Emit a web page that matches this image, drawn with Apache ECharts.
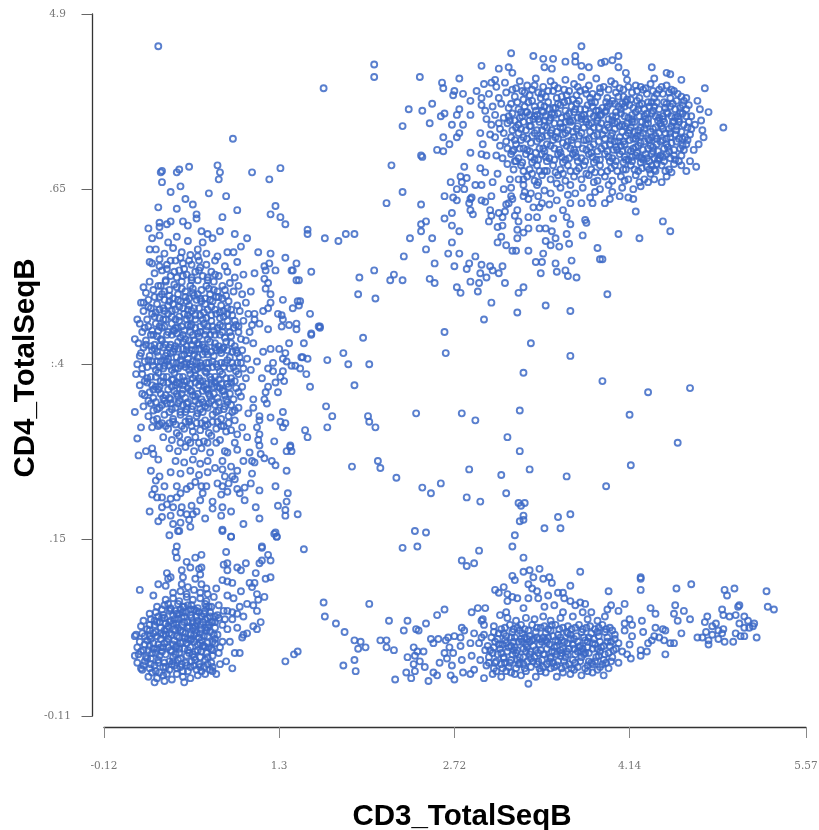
<!DOCTYPE html>
<html><head><meta charset="utf-8">
<style>html,body{margin:0;padding:0;background:#fff}#c{width:819px;height:830px}</style>
<script src="https://cdn.jsdelivr.net/npm/echarts@6/dist/echarts.min.js"></script>
</head><body><div id="c"></div>
<script>
const xTickValues=[-0.12,1.3,2.72,4.14,5.57];
const xTickLabels=['-0.12','1.3','2.72','4.14','5.57'];
const yTickValues=[-0.11,1.15,2.4,3.65,4.9];
const yTickLabels=['-0.11','.15',':.4','.65','4.9'];
// flat x,y pairs
const midScatter=[1.50,2.55,1.49,2.45,1.53,2.44,1.69,2.43,1.82,2.48,1.86,2.40,2.03,2.40,2.65,2.48,3.34,2.55,3.66,2.46,3.28,2.34,3.92,2.28,4.29,2.20,4.63,2.23,1.52,2.33,1.55,2.24,1.91,2.25,1.68,2.10,1.73,2.03,2.02,2.03,2.03,1.99,1.69,1.95,2.08,1.95,1.51,1.93,1.53,1.88,2.41,2.05,2.78,2.05,2.89,2.00,3.25,2.07,4.14,2.04,3.15,1.88,3.25,1.78,4.53,1.84,1.89,1.67,2.10,1.71,2.12,1.66,2.25,1.59,2.46,1.52,2.53,1.48,2.61,1.55,2.84,1.65,3.10,1.61,3.33,1.65,3.63,1.60,3.95,1.53,4.15,1.68,2.82,1.45,2.93,1.42,3.14,1.48,3.24,1.41,3.26,1.39,3.29,1.41,3.28,1.32,3.28,1.29,3.25,1.28,3.56,1.31,3.66,1.33,3.45,1.23,3.58,1.23,3.21,1.18,3.19,1.10,2.40,1.21,2.49,1.20,2.30,1.09,2.42,1.10,1.50,1.08,2.92,1.07,2.78,1.00,2.82,.96,2.88,.98,3.28,1.02,3.19,.89,3.28,.92,3.33,.93,3.41,.94,3.74,.92,4.23,.88];
const upperScatter=[2.07,4.54,2.07,4.45,1.66,4.37,2.44,4.45,2.62,4.41,2.63,4.37,2.76,4.44,2.72,4.35,2.71,4.32,2.54,4.26,2.35,4.22,2.46,4.21,2.61,4.17,2.64,4.19,2.52,4.12,2.30,4.10,2.76,4.22,2.74,4.18,2.70,4.11,2.63,4.02,2.68,3.97,2.74,4.02,2.76,4.05,2.58,3.93,2.63,3.92,2.45,3.89,2.46,3.88,2.21,3.82,2.85,3.91,2.80,3.81,2.77,3.74,2.82,3.73,2.69,3.70,2.78,3.70,2.74,3.65,2.80,3.65,2.89,3.68,2.30,3.63,2.17,3.55,2.45,3.54,2.64,3.60,2.71,3.59,2.74,3.57,2.84,3.55,2.86,3.59,2.70,3.48,2.64,3.44,2.85,3.50,2.87,3.47,2.49,3.42,2.45,3.40,2.45,3.35,2.70,3.39,2.76,3.35,2.36,3.30,2.54,3.30,1.53,3.36,1.53,3.33,1.67,3.30,1.78,3.28,1.84,3.33,1.91,3.33,2.70,3.27,2.49,3.22,2.67,3.19,2.76,3.19,2.31,3.17,2.56,3.12,2.72,3.10,2.82,3.08,2.84,3.12,2.89,3.17,1.56,3.06,2.07,3.07,1.95,3.02,2.23,3.04,2.20,3.00,2.30,3.00,2.52,3.01,2.56,2.98,2.74,2.95,2.77,2.91,2.85,2.99,1.94,2.90,2.08,2.87,1.55,2.76,1.47,2.85,1.62,2.67,1.63,2.66,1.56,2.61,1.98,2.59,2.64,2.63];
const topRightFringe=[3.02,3.60,3.03,3.70,2.94,3.68,2.94,3.57,2.97,3.56,2.85,3.58,3.01,3.50,3.02,3.46,3.00,3.42,3.08,3.48,3.11,3.45,3.13,3.49,3.14,3.54,3.16,3.55,3.18,3.60,3.19,3.58,3.07,3.38,3.11,3.39,3.23,3.50,3.21,3.46,3.24,3.42,3.32,3.45,3.39,3.45,3.36,3.52,3.41,3.52,3.40,3.60,3.32,3.58,3.28,3.60,3.23,3.36,3.28,3.34,3.32,3.37,3.41,3.37,3.46,3.37,3.51,3.35,3.23,3.30,3.10,3.31,3.07,3.27,3.14,3.25,3.19,3.21,3.22,3.21,3.32,3.21,3.44,3.19,3.38,3.13,3.43,3.13,3.46,3.28,3.54,3.30,3.50,3.25,3.57,3.24,3.65,3.26,3.63,3.33,3.76,3.32,4.05,3.33,4.22,3.30,4.41,3.42,4.47,3.35,4.19,3.49,3.88,3.23,3.90,3.15,3.92,3.15,3.67,3.14,3.54,3.12,3.55,3.06,3.62,3.07,3.64,3.03,3.71,3.02,3.42,3.05,3.96,2.90,3.66,2.78,3.46,2.82,3.23,2.77,2.96,2.72,3.02,2.84,2.91,2.92,2.92,2.98,2.98,3.02,2.93,3.05,3.03,3.07,3.08,3.05,3.13,2.98,3.11,3.10,3.01,3.10,2.94,3.11,3.24,2.91,3.28,2.95,3.75,4.67,3.18,4.62,3.36,4.60,3.44,4.58,3.52,4.58,3.70,4.60,3.62,4.56,3.70,4.56,2.94,4.53,3.08,4.51,3.16,4.52,3.19,4.48,3.45,4.52,3.51,4.51,3.75,4.53,3.81,4.52,3.91,4.55,3.94,4.56,4.00,4.57,4.05,4.60,4.05,4.52,4.32,4.52,4.44,4.48,4.47,4.47,4.11,4.48,4.34,4.44,4.56,4.43,4.75,4.37,4.69,4.28,4.60,4.30,4.78,4.20,4.71,4.22,4.90,4.09,4.72,4.14,4.73,4.07,4.74,4.02,4.70,3.97,4.66,3.93,4.63,3.85,4.68,3.81,4.60,3.78,4.56,3.82,4.48,3.77,4.44,3.74,4.40,3.70,4.29,3.70,4.17,3.65,4.17,3.58,4.13,3.59,4.06,3.60,4.00,3.63,3.94,3.55,3.84,3.55,2.79,4.33,2.85,4.28,2.90,4.35,2.96,4.40,2.94,4.30,3.02,4.41,3.05,4.43,2.85,4.18,2.79,4.11,2.94,4.25,2.97,4.21,2.93,4.05,3.01,4.04,2.95,3.97,2.94,3.90,2.98,3.89,3.06,3.89,2.93,3.80,2.97,3.77,3.07,3.76,3.17,3.72,3.12,3.65,3.28,3.68,3.29,3.63,3.39,3.68,3.45,3.64,3.55,3.57,3.64,3.61,3.76,3.66,3.90,3.65,3.82,3.59,3.75,3.55,3.66,3.55,3.60,3.50,3.78,3.43,3.79,3.41,3.63,3.45,3.66,3.40,3.49,3.54,3.43,3.55,3.52,3.44,3.18,3.66,3.34,3.62,3.50,3.62,3.58,3.66,3.70,3.62,3.86,3.63,3.98,3.58,4.08,3.66,4.23,3.67,4.34,3.72];
const topRightCore=[3.06,4.38,3.13,4.41,3.19,4.36,3.25,4.42,3.31,4.39,3.38,4.44,3.44,4.38,3.50,4.42,3.56,4.37,3.62,4.43,3.69,4.40,3.75,4.45,3.81,4.39,3.87,4.44,3.93,4.38,3.99,4.42,4.06,4.37,4.12,4.43,4.19,4.39,4.25,4.36,4.31,4.40,4.38,4.36,4.44,4.39,4.50,4.35,
3.00,4.33,3.08,4.30,3.14,4.34,3.21,4.31,3.27,4.35,3.33,4.32,3.40,4.34,3.46,4.31,3.52,4.35,3.59,4.31,3.65,4.35,3.71,4.32,3.78,4.36,3.84,4.33,3.90,4.34,3.96,4.30,4.03,4.34,4.09,4.31,4.16,4.34,4.22,4.30,4.28,4.33,4.34,4.30,4.41,4.33,4.47,4.30,4.53,4.33,4.58,4.28,
3.03,4.24,3.10,4.26,3.16,4.23,3.23,4.27,3.29,4.24,3.35,4.28,3.42,4.25,3.48,4.27,3.54,4.23,3.61,4.27,3.67,4.24,3.73,4.28,3.80,4.25,3.86,4.27,3.92,4.23,3.98,4.26,4.05,4.24,4.11,4.27,4.17,4.23,4.24,4.26,4.30,4.24,4.36,4.27,4.43,4.23,4.49,4.26,4.55,4.23,4.62,4.25,
2.98,4.15,3.05,4.18,3.12,4.16,3.19,4.19,3.25,4.16,3.31,4.20,3.37,4.17,3.44,4.20,3.50,4.16,3.56,4.19,3.63,4.17,3.69,4.20,3.75,4.17,3.82,4.19,3.88,4.16,3.94,4.20,4.00,4.17,4.07,4.19,4.13,4.16,4.19,4.20,4.26,4.17,4.32,4.19,4.38,4.16,4.45,4.19,4.51,4.16,4.57,4.19,4.64,4.17,
3.02,4.11,3.09,4.08,3.15,4.12,3.22,4.09,3.28,4.13,3.34,4.10,3.41,4.13,3.47,4.09,3.53,4.12,3.60,4.09,3.66,4.13,3.72,4.10,3.79,4.13,3.85,4.09,3.91,4.12,3.97,4.09,4.04,4.13,4.10,4.10,4.16,4.13,4.23,4.09,4.29,4.12,4.35,4.09,4.42,4.13,4.48,4.10,4.54,4.13,4.61,4.09,4.67,4.11,
3.05,4.02,3.12,4.05,3.18,4.02,3.24,4.05,3.31,4.01,3.37,4.05,3.43,4.02,3.50,4.05,3.56,4.01,3.62,4.05,3.69,4.02,3.75,4.05,3.81,4.01,3.88,4.04,3.94,4.01,4.00,4.05,4.06,4.02,4.13,4.05,4.19,4.01,4.25,4.05,4.32,4.02,4.38,4.05,4.44,4.01,4.51,4.04,4.57,4.01,4.63,4.04,
3.09,3.96,3.15,3.94,3.22,3.97,3.28,3.94,3.34,3.98,3.41,3.94,3.47,3.97,3.53,3.94,3.60,3.98,3.66,3.94,3.72,3.97,3.79,3.93,3.85,3.97,3.91,3.94,3.98,3.97,4.04,3.93,4.10,3.97,4.17,3.94,4.23,3.98,4.29,3.94,4.36,3.97,4.42,3.94,4.48,3.98,4.55,3.94,4.60,3.97,
3.11,3.87,3.18,3.90,3.24,3.87,3.30,3.90,3.37,3.86,3.43,3.90,3.49,3.87,3.56,3.90,3.62,3.86,3.68,3.90,3.75,3.87,3.81,3.90,3.87,3.86,3.94,3.90,4.00,3.87,4.06,3.90,4.13,3.86,4.19,3.89,4.25,3.86,4.32,3.90,4.38,3.87,4.44,3.90,4.51,3.86,4.56,3.89,
3.20,3.79,3.26,3.82,3.33,3.79,3.39,3.82,3.45,3.78,3.52,3.82,3.58,3.79,3.64,3.82,3.71,3.78,3.77,3.82,3.83,3.79,3.90,3.82,3.96,3.78,4.02,3.82,4.09,3.79,4.15,3.82,4.21,3.78,4.28,3.81,4.34,3.79,4.40,3.82,4.46,3.79,
3.24,3.72,3.31,3.74,3.37,3.71,3.43,3.75,3.50,3.72,3.56,3.75,3.62,3.71,3.69,3.74,3.75,3.72,3.81,3.75,3.88,3.71,3.94,3.74,4.00,3.71,4.07,3.74,4.13,3.72,4.19,3.75,4.26,3.72,4.31,3.76,
4.00,4.28,4.07,4.22,4.12,4.29,4.18,4.13,4.21,4.22,4.27,4.15,4.33,4.21,4.39,4.12,4.44,4.20,4.50,4.13,4.55,4.20,4.02,4.12,4.08,4.06,4.14,4.07,4.20,4.03,4.26,4.08,4.30,4.00,4.36,4.01,4.41,4.08,4.47,4.02,4.52,4.07,4.59,4.02,3.99,4.00,4.03,3.95,4.09,3.99,4.15,3.92,4.21,3.96,4.27,3.90,4.33,3.95,4.39,3.89,4.45,3.95,4.50,3.89,4.09,3.84,4.16,3.85,4.23,3.84,4.30,3.85,4.36,3.83,4.42,3.85,3.62,4.21,3.68,4.14,3.74,4.22,3.81,4.11,3.87,4.21,3.45,4.14,3.52,4.23,3.58,4.12,3.38,4.21,3.33,4.14];
const topRightExtra=[3.22,4.37,3.28,4.29,3.35,4.36,3.42,4.30,3.48,4.35,3.55,4.30,3.61,4.36,3.68,4.29,3.74,4.35,3.82,4.30,3.90,4.37,3.95,4.27,4.02,4.40,4.09,4.36,4.15,4.29,4.23,4.38,4.29,4.27,4.36,4.33,4.42,4.27,4.48,4.36,4.56,4.31,3.18,4.26,3.26,4.20,3.32,4.27,3.39,4.18,3.45,4.24,3.51,4.19,3.58,4.25,3.65,4.19,3.71,4.26,3.77,4.18,3.84,4.24,3.90,4.18,3.96,4.24,4.03,4.20,4.10,4.24,4.16,4.18,4.22,4.25,4.28,4.19,4.34,4.24,4.41,4.17,4.47,4.24,4.53,4.17,4.60,4.22,3.08,4.12,3.17,4.14,3.24,4.11,3.30,4.07,3.36,4.15,3.43,4.07,3.49,4.14,3.55,4.06,3.62,4.13,3.68,4.06,3.75,4.15,3.82,4.06,3.88,4.14,3.94,4.07,4.00,4.14,4.06,4.10,4.12,4.12,4.18,4.06,4.24,4.13,4.31,4.06,4.37,4.14,4.43,4.05,4.49,4.13,4.56,4.06,4.62,4.13,3.14,3.99,3.20,3.93,3.26,4.00,3.33,3.92,3.39,3.99,3.45,3.92,3.52,4.00,3.58,3.91,3.64,3.99,3.70,3.91,3.77,4.00,3.83,3.91,3.89,3.99,3.96,3.92,4.02,3.99,4.08,3.92,4.14,4.00,4.20,3.91,4.26,3.99,4.33,3.92,4.39,3.99,4.46,3.92,4.52,3.99,4.58,3.93,3.15,3.83,3.22,3.85,3.28,3.78,3.35,3.84,3.41,3.78,3.47,3.85,3.54,3.77,3.60,3.84,3.66,3.78,3.72,3.85,3.79,3.76,3.85,3.84,3.91,3.77,3.98,3.85,4.04,3.78,4.11,3.86,4.18,3.79,4.24,3.87,4.30,3.79,4.37,3.86,4.43,3.78,4.50,3.83,3.28,3.72,3.40,3.70,3.55,3.69,3.66,3.68,3.85,3.70,3.97,3.68,4.10,3.71,4.22,3.70,4.35,3.78];
const topRightFill=[3.29,4.34,3.37,4.39,3.43,4.33,3.53,4.39,3.63,4.32,3.72,4.38,3.79,4.33,3.88,4.31,3.97,4.36,4.05,4.31,4.13,4.38,4.20,4.35,4.27,4.37,4.33,4.35,4.40,4.38,4.46,4.34,4.52,4.28,3.24,4.22,3.30,4.20,3.37,4.24,3.43,4.21,3.49,4.22,3.56,4.26,3.64,4.28,3.70,4.22,3.78,4.22,3.83,4.27,3.89,4.21,3.95,4.21,4.02,4.26,4.08,4.26,4.14,4.25,4.20,4.28,4.26,4.22,4.32,4.27,4.38,4.22,4.44,4.26,4.51,4.22,4.57,4.25,3.16,4.17,3.21,4.14,3.27,4.17,3.33,4.18,3.40,4.15,3.46,4.17,3.53,4.18,3.59,4.16,3.65,4.14,3.72,4.16,3.78,4.15,3.85,4.17,3.91,4.18,3.97,4.15,4.03,4.17,4.10,4.17,4.16,4.15,4.22,4.17,4.29,4.15,4.35,4.17,4.41,4.15,4.48,4.17,4.54,4.15,4.60,4.17,3.19,4.07,3.26,4.08,3.33,4.10,3.39,4.07,3.45,4.10,3.51,4.07,3.58,4.09,3.64,4.07,3.71,4.08,3.77,4.09,3.83,4.12,3.89,4.09,3.96,4.11,4.02,4.08,4.08,4.11,4.15,4.09,4.21,4.07,4.27,4.11,4.33,4.08,4.40,4.10,4.46,4.08,4.52,4.10,4.58,4.11,4.64,4.08,3.21,4.00,3.28,4.02,3.35,4.03,3.41,4.01,3.47,4.03,3.54,4.02,3.60,4.04,3.67,4.00,3.73,4.03,3.79,4.00,3.85,4.03,3.92,4.04,3.99,4.03,4.05,3.99,4.11,4.03,4.17,4.01,4.23,4.03,4.29,4.01,4.35,4.03,4.41,4.00,4.47,4.05,4.54,4.01,4.61,4.00,3.19,3.92,3.25,3.94,3.31,3.93,3.38,3.91,3.44,3.94,3.50,3.96,3.57,3.93,3.63,3.96,3.69,3.93,3.76,3.94,3.82,3.95,3.88,3.92,3.94,3.96,4.01,3.93,4.07,3.96,4.13,3.93,4.19,3.95,4.25,3.93,4.31,3.96,4.37,3.92,4.44,3.97,4.50,3.93,4.57,3.96,3.21,3.85,3.27,3.84,3.34,3.88,3.40,3.86,3.46,3.88,3.53,3.86,3.59,3.88,3.65,3.87,3.71,3.88,3.78,3.85,3.84,3.88,3.90,3.86,3.97,3.88,4.03,3.85,4.10,3.88,4.16,3.88,4.22,3.88,4.28,3.87,4.34,3.87,4.41,3.88,4.47,3.87,4.54,3.85,3.35,3.76,3.47,3.78,3.60,3.76,3.73,3.80,3.86,3.77,3.99,3.80,4.11,3.79,4.24,3.80,4.32,3.82];
const leftFringe=[.32,4.67,.925,4.01,.34,3.77,.35,3.78,.47,3.77,.49,3.79,.57,3.81,.80,3.82,.82,3.77,.81,3.72,1.08,3.77,1.31,3.80,1.22,3.72,.35,3.70,.50,3.67,.42,3.63,.73,3.62,.87,3.60,.54,3.58,.60,3.54,.32,3.52,.47,3.51,.96,3.50,1.27,3.53,1.23,3.47,1.31,3.45,1.35,3.40,.63,3.47,.63,3.44,.84,3.45,.42,3.42,.52,3.42,.56,3.39,.24,3.37,.33,3.41,.33,3.38,.39,3.40,.67,3.35,.82,3.35,.94,3.33,.72,3.33,.76,3.30,1.04,3.30,.27,3.30,.33,3.32,.40,3.27,.47,3.31,.56,3.28,.68,3.27,.99,3.24,1.13,3.20,.88,3.20,.93,3.20,1.23,3.19,1.35,3.16,1.44,3.12,1.41,3.07,1.44,3.00,.25,3.22,.25,3.13,.20,2.95,.80,3.17,.96,3.13,1.22,3.12,1.18,3.10,1.27,3.07,1.10,3.05,1.18,3.01,1.21,2.98,1.19,2.94,1.23,2.90,1.33,2.86,1.07,2.92,1.40,3.07,1.46,3.00,1.19,3.07,1.01,3.04,1.23,2.84,1.45,2.85,1.41,2.80,1.46,2.82,1.29,2.76,1.32,2.75,1.17,2.78,1.21,2.80,1.10,2.76,1.10,2.72,1.33,2.72,1.08,2.68,1.14,2.69,1.21,2.65,1.32,2.67,1.38,2.68,1.44,2.69,1.44,2.65,1.56,2.62,1.63,2.67,1.38,2.55,1.30,2.51,1.35,2.48,1.23,2.51,1.17,2.49,1.33,2.44,1.36,2.42,1.40,2.39,1.43,2.39,1.47,2.37,1.48,2.45,1.25,2.41,1.21,2.37,1.25,2.35,1.33,2.35,1.31,2.31,1.34,2.28,1.16,2.30,1.21,2.24,1.27,2.27,1.29,2.20,1.19,2.20,1.18,2.15,1.20,2.12,1.09,2.15,1.09,2.09,1.05,2.05,1.33,2.06,1.14,2.03,1.14,2.00,1.23,2.02,1.12,1.95,1.31,1.99,1.35,1.98,1.33,1.95,1.00,1.95,.96,1.90,1.14,1.90,1.26,1.85,1.39,1.81,1.13,1.86,1.14,1.82,1.04,1.88,.94,1.84,
.16,1.75,.22,1.78,.27,1.80,.28,1.76,.32,1.72,.26,1.64,.33,1.60,.30,1.57,.42,1.63,.37,1.53,.47,1.53,.29,1.51,.27,1.47,.31,1.45,.35,1.45,.42,1.44,.47,1.45,.50,1.48,.58,1.53,.55,1.51,.66,1.43,.68,1.48,.71,1.53,.67,1.53,.80,1.55,.84,1.53,.89,1.55,.86,1.60,.92,1.60,.94,1.58,.96,1.64,1.08,1.62,1.07,1.55,1.02,1.52,.96,1.51,.98,1.48,.88,1.49,.83,1.47,1.14,1.50,1.27,1.53,1.36,1.64,1.27,1.68,1.24,1.71,1.18,1.73,1.10,1.70,1.08,1.71,1.01,1.71,.91,1.67,.84,1.65,.96,1.79,.86,1.78,.88,1.77,.84,1.71,1.15,1.76,1.06,1.77,1.39,1.82,1.36,1.78,1.40,1.78,1.02,1.43,1.11,1.38,1.14,1.30,1.29,1.39,1.36,1.42,1.37,1.48,1.35,1.36,1.35,1.32,1.45,1.33,1.27,1.20,1.28,1.17,1.16,1.10,1.01,1.26,.91,1.17,.84,1.22,.91,1.35,.84,1.38,.83,1.32,.76,1.42,.76,1.37,.70,1.30,.60,1.33,.63,1.35,.59,1.39,.55,1.33,.57,1.29,.58,1.24,.50,1.27,.44,1.26,.48,1.21,.32,1.28,.35,1.31,.25,1.35,.42,1.32,.50,1.34,.39,1.40,.44,1.38,.51,1.38,.35,1.38,.20,2.84,.15,2.72,.13,2.58,.17,2.46,.14,2.33,.19,2.19,.13,2.06,.18,1.95,.15,1.87];
const leftCore=[.30,3.22,.37,3.19,.44,3.23,.51,3.20,.58,3.18,.64,3.22,.71,3.19,.78,3.14,.86,3.10,
.27,3.12,.33,3.15,.39,3.11,.46,3.14,.52,3.12,.59,3.11,.65,3.14,.71,3.11,.88,3.06,.29,3.05,.35,3.07,.42,3.03,.49,3.07,.55,3.04,.62,3.06,.68,3.03,.75,3.06,.81,3.03,.94,3.02,
.25,2.99,.32,2.96,.38,2.99,.45,2.97,.51,2.99,.58,2.96,.64,3.00,.71,2.96,.77,2.99,.84,2.96,.90,2.98,.97,2.96,.22,2.91,.28,2.93,.35,2.90,.41,2.93,.48,2.90,.54,2.92,.61,2.89,.67,2.93,.74,2.90,.80,2.92,.87,2.89,.93,2.92,1.00,2.90,
.18,2.84,.24,2.86,.31,2.83,.37,2.86,.44,2.83,.50,2.85,.57,2.82,.63,2.86,.70,2.83,.76,2.85,.83,2.82,.89,2.85,.96,2.82,1.03,2.84,.20,2.78,.27,2.76,.33,2.79,.40,2.76,.46,2.79,.53,2.76,.59,2.78,.66,2.75,.72,2.79,.79,2.76,.85,2.78,.92,2.75,.98,2.78,1.05,2.76,
.17,2.69,.23,2.72,.30,2.69,.36,2.72,.43,2.69,.49,2.71,.56,2.68,.62,2.72,.69,2.69,.75,2.71,.82,2.68,.88,2.71,.95,2.68,1.01,2.71,1.06,2.63,.19,2.63,.26,2.61,.32,2.64,.39,2.61,.45,2.64,.52,2.61,.58,2.63,.65,2.60,.71,2.64,.78,2.61,.84,2.63,.91,2.60,.97,2.63,1.03,2.57,
.16,2.55,.22,2.57,.29,2.54,.35,2.57,.42,2.54,.48,2.56,.55,2.53,.61,2.57,.68,2.54,.74,2.56,.81,2.53,.87,2.56,.94,2.53,1.00,2.50,1.09,2.55,.18,2.48,.25,2.46,.31,2.49,.38,2.46,.44,2.49,.51,2.46,.57,2.48,.64,2.45,.70,2.49,.77,2.46,.83,2.48,.90,2.45,.96,2.48,1.04,2.44,1.12,2.42,
.15,2.40,.21,2.42,.28,2.39,.34,2.42,.41,2.39,.47,2.41,.54,2.38,.60,2.42,.67,2.39,.73,2.41,.80,2.38,.86,2.41,.93,2.38,.99,2.41,1.07,2.36,.19,2.33,.26,2.31,.32,2.34,.39,2.31,.45,2.34,.52,2.31,.58,2.33,.65,2.30,.71,2.34,.78,2.31,.84,2.33,.91,2.30,.97,2.33,1.03,2.30,
.17,2.25,.23,2.27,.30,2.24,.36,2.27,.43,2.24,.49,2.26,.56,2.23,.62,2.27,.69,2.24,.75,2.26,.82,2.23,.88,2.26,.95,2.23,1.00,2.24,.21,2.18,.28,2.16,.34,2.19,.41,2.16,.47,2.19,.54,2.16,.60,2.18,.67,2.15,.73,2.19,.80,2.16,.86,2.18,.93,2.15,.99,2.17,
.20,2.10,.26,2.12,.33,2.09,.39,2.12,.46,2.09,.52,2.11,.59,2.08,.65,2.12,.72,2.09,.78,2.11,.85,2.08,.91,2.11,.97,2.09,.24,2.03,.31,2.01,.37,2.04,.44,2.01,.50,2.04,.57,2.01,.63,2.03,.70,2.00,.76,2.04,.83,2.01,.89,2.03,.94,2.00,
.27,1.95,.33,1.97,.40,1.94,.46,1.97,.53,1.94,.59,1.96,.66,1.93,.72,1.97,.79,1.94,.85,1.96,.91,1.93,.36,1.88,.43,1.86,.49,1.89,.56,1.86,.62,1.88,.69,1.85,.75,1.89,.82,1.86,.41,1.80,.48,1.78,.54,1.81,.61,1.78,.67,1.80,.74,1.77,.46,1.71,.53,1.70,.60,1.72,.66,1.69,.72,1.71,.50,1.62,.58,1.64,.65,1.61,.72,1.63,.78,1.66,.62,1.56,
.38,2.72,.46,2.66,.34,2.58,.41,2.52,.50,2.59,.56,2.75,.62,2.66,.40,2.44,.48,2.37,.56,2.44,.62,2.36,.72,2.58,.78,2.52,.68,2.47,.36,2.37,.44,2.29,.52,2.22,.60,2.30,.68,2.21,.75,2.29,.42,2.15,.50,2.06,.56,2.13,.64,2.05,.80,2.24,.70,2.10];
const leftExtra=[.24,2.81,.29,2.74,.36,2.80,.43,2.74,.49,2.81,.55,2.72,.61,2.80,.68,2.72,.75,2.81,.82,2.73,.88,2.80,.94,2.71,.21,2.66,.28,2.61,.35,2.66,.43,2.61,.48,2.66,.54,2.58,.60,2.61,.66,2.67,.74,2.61,.80,2.66,.86,2.59,.93,2.66,.99,2.58,.20,2.52,.27,2.50,.33,2.53,.39,2.48,.46,2.53,.52,2.51,.59,2.54,.65,2.51,.72,2.47,.79,2.50,.85,2.52,.92,2.49,.98,2.45,.19,2.37,.24,2.43,.30,2.36,.37,2.43,.43,2.36,.50,2.43,.57,2.36,.63,2.42,.70,2.35,.76,2.42,.82,2.35,.88,2.43,.95,2.35,1.01,2.37,.21,2.28,.28,2.22,.34,2.28,.40,2.22,.47,2.27,.53,2.28,.59,2.21,.66,2.28,.72,2.22,.78,2.27,.85,2.21,.91,2.27,.97,2.20,.24,2.14,.31,2.08,.37,2.14,.43,2.08,.49,2.14,.55,2.08,.62,2.14,.68,2.06,.75,2.14,.81,2.07,.88,2.13,.94,2.07,.28,2.00,.35,1.98,.41,1.98,.47,1.91,.54,1.99,.60,1.92,.67,1.98,.73,1.91,.80,1.99,.87,1.92,.34,2.96,.41,2.89,.47,2.95,.54,2.88,.60,2.94,.66,2.87,.73,2.94,.79,2.88,.86,2.93,.39,3.08,.47,3.02,.53,3.08,.59,3.02,.66,3.09,.72,3.02,.57,2.57,.64,2.55,.53,2.47,.61,2.47,.66,2.41,.47,2.45,.55,2.41];
const leftFill=[.29,2.88,.37,2.92,.44,2.87,.51,2.94,.57,2.87,.64,2.90,.70,2.87,.77,2.93,.84,2.87,.26,2.80,.33,2.73,.40,2.82,.46,2.72,.52,2.80,.58,2.73,.65,2.80,.71,2.73,.78,2.79,.85,2.74,.91,2.79,.24,2.67,.31,2.60,.37,2.67,.44,2.64,.51,2.67,.58,2.67,.66,2.63,.72,2.67,.77,2.64,.84,2.67,.90,2.63,.97,2.67,.22,2.54,.29,2.51,.36,2.52,.42,2.48,.48,2.51,.55,2.50,.62,2.50,.69,2.52,.75,2.49,.82,2.50,.88,2.50,.95,2.50,.23,2.38,.31,2.42,.37,2.39,.44,2.41,.50,2.39,.58,2.40,.64,2.37,.71,2.41,.76,2.38,.83,2.41,.90,2.37,.96,2.41,.23,2.30,.30,2.31,.36,2.31,.43,2.29,.49,2.31,.55,2.28,.62,2.32,.68,2.28,.74,2.31,.81,2.29,.87,2.30,.94,2.28,.25,2.20,.32,2.22,.38,2.18,.45,2.21,.51,2.19,.58,2.21,.64,2.19,.71,2.22,.77,2.19,.84,2.21,.90,2.19,.28,2.07,.35,2.11,.41,2.06,.48,2.12,.54,2.06,.60,2.10,.66,2.08,.73,2.12,.79,2.06,.86,2.10,.92,2.06,.32,1.96,.38,1.96,.44,1.99,.51,1.96,.57,1.99,.63,1.98,.70,1.96,.76,1.99,.83,1.96,.89,1.98,.38,3.00,.45,3.06,.52,3.03,.59,3.00,.65,3.07,.72,3.00,.78,3.04,.33,3.10,.42,3.14,.50,3.16,.57,3.14,.64,3.17,.50,1.84,.58,1.84,.65,1.84,.72,1.84,.79,1.84,
.33,2.88,.41,2.85,.48,2.86,.55,2.85,.60,2.91,.67,2.85,.74,2.86,.81,2.88,.30,2.77,.37,2.78,.43,2.78,.49,2.74,.56,2.79,.62,2.75,.69,2.77,.75,2.75,.82,2.77,.88,2.76,.27,2.64,.33,2.67,.40,2.63,.47,2.62,.53,2.64,.59,2.68,.64,2.62,.70,2.61,.76,2.67,.82,2.61,.89,2.67,.26,2.53,.32,2.46,.38,2.54,.45,2.51,.52,2.56,.59,2.50,.65,2.54,.71,2.51,.78,2.55,.84,2.51,.91,2.55,.27,2.42,.33,2.38,.39,2.42,.46,2.37,.53,2.40,.59,2.38,.66,2.38,.72,2.37,.79,2.40,.85,2.38,.92,2.41,.27,2.25,.33,2.24,.40,2.27,.46,2.25,.52,2.25,.58,2.26,.65,2.25,.71,2.26,.77,2.24,.83,2.26,.89,2.24,.30,2.13,.36,2.16,.42,2.12,.48,2.17,.55,2.12,.62,2.17,.68,2.13,.74,2.17,.81,2.13,.87,2.15];
const lowerLeftCore=[.24,.17,.31,.16,.36,.18,.43,.15,.47,.19,.52,.17,.58,.16,.64,.18,.70,.19,.19,.22,.25,.23,.30,.21,.36,.24,.41,.22,.47,.23,.52,.21,.58,.24,.63,.22,.69,.24,.74,.22,.15,.27,.21,.28,.26,.26,.32,.29,.37,.27,.43,.26,.48,.29,.54,.27,.59,.28,.65,.26,.70,.29,.75,.27,.16,.33,.22,.31,.27,.34,.33,.32,.38,.33,.44,.31,.49,.34,.55,.32,.60,.33,.66,.31,.71,.34,.76,.36,.15,.38,.20,.36,.25,.39,.31,.37,.36,.38,.42,.36,.47,.39,.53,.37,.58,.38,.64,.36,.69,.39,.75,.37,.78,.41,.17,.42,.23,.43,.28,.41,.34,.44,.39,.42,.45,.43,.50,.41,.56,.44,.61,.42,.67,.43,.72,.41,.78,.44,.14,.47,.19,.48,.25,.46,.30,.49,.36,.47,.41,.48,.47,.46,.52,.49,.58,.47,.63,.48,.69,.46,.74,.49,.80,.47,.18,.53,.23,.51,.29,.54,.34,.52,.40,.53,.45,.51,.51,.54,.56,.52,.62,.53,.67,.51,.73,.54,.78,.52,.84,.54,.20,.57,.26,.58,.31,.56,.37,.59,.42,.57,.48,.58,.53,.56,.59,.59,.64,.57,.70,.58,.75,.56,.81,.59,.86,.58,.25,.62,.30,.63,.36,.61,.41,.64,.47,.62,.52,.63,.58,.61,.63,.64,.69,.62,.74,.63,.80,.61,.85,.64,.31,.67,.37,.68,.42,.66,.48,.69,.53,.67,.59,.68,.64,.66,.70,.69,.75,.67,.81,.68,.38,.72,.44,.73,.49,.71,.55,.74,.60,.72,.66,.73,.71,.71,.77,.74,.44,.77,.50,.78,.55,.76,.61,.79,.66,.77,.72,.76,
.23,.30,.29,.25,.35,.35,.41,.28,.46,.33,.51,.26,.57,.34,.62,.29,.67,.35,.26,.44,.32,.40,.38,.47,.44,.40,.49,.45,.55,.41,.61,.47,.66,.41,.72,.46,.33,.56,.39,.51,.45,.58,.50,.50,.56,.56,.62,.50,.68,.56,.74,.60,.42,.65,.49,.62,.56,.68,.63,.60,.70,.64,
.20,.25,.27,.20,.33,.20,.39,.19,.45,.25,.50,.24,.56,.21,.61,.25,.67,.21,.72,.26,.18,.35,.24,.36,.30,.34,.37,.41,.43,.35,.49,.37,.56,.36,.62,.35,.68,.39,.73,.38,.21,.46,.28,.48,.34,.48,.40,.44,.46,.50,.53,.45,.59,.44,.65,.45,.71,.50,.77,.47,.25,.54,.32,.60,.38,.55,.44,.55,.51,.59,.57,.53,.63,.55,.70,.52,.76,.56,.35,.65,.44,.61,.50,.65,.55,.63,.61,.65,.67,.60,.73,.67,
.26,.30,.32,.27,.38,.24,.44,.28,.50,.30,.55,.25,.61,.31,.66,.24,.72,.31,.21,.40,.28,.37,.34,.38,.40,.38,.46,.38,.52,.42,.58,.43,.64,.40,.70,.38,.76,.42,.25,.50,.31,.46,.37,.50,.43,.47,.48,.52,.54,.48,.60,.52,.66,.48,.72,.52,.78,.56,.29,.57,.35,.59,.41,.56,.47,.55,.53,.60,.60,.56,.66,.54,.72,.59,.78,.60,.40,.69,.46,.64,.52,.67,.58,.65,.65,.63,.71,.67];
const lowerLeftFringe=[.41,1.18,.49,1.21,.47,1.10,.46,1.06,.47,1.02,.55,.99,.62,1.02,.67,1.04,.58,.95,.67,.95,.65,.94,.66,.90,.51,.93,.52,.88,.39,.91,.42,.88,.40,.87,.32,.83,.38,.82,.17,.79,.28,.75,.51,.83,.56,.81,.62,.87,.67,.83,.71,.80,.79,.80,.87,1.06,.91,1.17,.84,1.21,1.26,1.19,1.28,1.17,1.16,1.09,1.21,1.04,1.23,1.00,1.16,1.00,1.14,.98,1.03,.98,.96,.95,.99,.93,.88,.98,.85,.97,.88,.93,1.11,.91,.84,.86,.88,.85,.92,.84,1.06,.84,1.10,.84,1.08,.81,1.23,.88,1.19,.87,.99,.78,1.12,.76,1.18,.74,1.13,.72,.88,.75,.93,.73,1.04,.69,1.09,.68,.98,.67,1.12,.64,.88,.64,.92,.63,.96,.62,1.01,.60,.92,.58,1.15,.56,1.09,.53,1.12,.51,.96,.52,.88,.51,1.04,.48,1.01,.47,1.00,.45,.90,.42,.84,.42,.94,.34,.98,.34,.82,.38,.81,.34,.76,.32,.87,.28,.82,.26,.76,.24,.92,.23,.76,.21,.79,.19,.53,.13,.29,.13,.37,.14,.13,.46,.13,.32,.18,.23,1.35,.28,1.42,.33,1.45,.35];
const bottomScatter=[1.66,.70,2.03,.69,1.67,.60,1.76,.55,1.83,.49,1.91,.43,1.96,.42,1.94,.37,2.00,.38,1.91,.29,1.82,.25,1.92,.21,2.19,.57,2.34,.57,2.49,.55,2.31,.50,2.41,.51,2.43,.50,2.12,.43,2.17,.43,2.17,.38,2.23,.36,2.58,.61,2.64,.65,2.86,.63,2.91,.66,2.97,.66,2.94,.57,2.53,.44,2.55,.41,2.59,.44,2.39,.38,2.42,.35,2.47,.35,2.34,.31,2.40,.32,2.39,.26,2.44,.28,2.48,.24,2.33,.20,2.40,.21,2.37,.16,2.24,.15,2.51,.14,2.55,.20,2.58,.18,2.69,.18,2.72,.15,2.60,.27,2.65,.43,2.67,.45,2.72,.46,2.77,.45,2.78,.52,2.80,.50,2.68,.38,2.64,.34,2.71,.34,2.77,.39,2.66,.30,2.70,.25,2.78,.29,2.79,.20,2.85,.19,2.96,.16,2.88,.22,2.86,.32,2.85,.41,2.88,.48,2.94,.45,2.96,.54];
const rightTail=[5.25,.78,5.26,.67,5.31,.65,4.91,.79,4.99,.80,4.93,.75,4.64,.83,4.52,.80,4.23,.87,4.23,.79,3.97,.78,5.03,.68,5.02,.67,4.51,.68,4.31,.66,4.35,.62,4.50,.62,4.58,.64,4.53,.57,4.10,.69,3.99,.68,3.96,.65,4.05,.64,4.24,.57,4.25,.49,4.14,.58,4.10,.55,4.16,.54,4.10,.50,4.16,.46,4.14,.40,4.35,.52,4.41,.51,4.43,.50,4.56,.48,4.63,.58,4.34,.46,4.38,.45,4.32,.43,4.29,.41,4.42,.43,4.47,.41,4.50,.41,4.43,.33,4.28,.35,4.23,.36,4.23,.32,4.15,.30,4.12,.33,4.77,.60,4.75,.56,4.89,.65,4.90,.61,4.95,.60,5.00,.61,5.07,.60,5.10,.57,5.15,.55,5.03,.55,5.07,.52,5.11,.52,5.14,.53,5.00,.48,5.04,.46,5.07,.46,5.17,.45,4.84,.55,4.81,.53,4.86,.50,4.90,.51,4.76,.49,4.81,.47,4.89,.48,4.69,.45,4.73,.45,4.78,.43,4.78,.40,4.86,.44,4.91,.42,4.98,.42,3.36,.88,3.44,.87,3.49,.88,3.51,.84,3.21,.86,3.32,.83,3.12,.81,3.05,.79,3.08,.77,3.15,.76,3.19,.74,3.23,.73,3.35,.80,3.39,.78,3.66,.82,3.56,.77,3.60,.77,3.48,.75,3.32,.73,3.40,.73,3.61,.73,3.66,.71,3.74,.70,3.78,.69,3.70,.68,3.15,.71,3.14,.63,3.28,.66,3.45,.67,3.53,.68,3.60,.63,3.76,.63,3.83,.63,3.94,.60,3.09,.61,2.95,.58,3.32,.12];
const bottomRightCore=[3.03,.19,3.10,.17,3.18,.20,3.26,.18,3.38,.17,3.46,.20,3.55,.17,3.66,.19,3.75,.18,3.84,.20,3.93,.18,2.98,.25,3.04,.23,3.10,.26,3.16,.24,3.22,.23,3.28,.26,3.34,.24,3.41,.23,3.47,.26,3.53,.24,3.59,.23,3.65,.26,3.72,.24,3.78,.23,3.84,.26,3.90,.24,3.97,.23,2.93,.29,3.00,.31,3.06,.28,3.12,.31,3.18,.29,3.25,.31,3.31,.28,3.37,.31,3.43,.29,3.50,.31,3.56,.28,3.62,.31,3.68,.29,3.75,.31,3.81,.28,3.87,.31,3.93,.29,4.00,.31,4.05,.27,2.97,.36,3.03,.34,3.09,.37,3.15,.35,3.22,.34,3.28,.37,3.34,.35,3.40,.34,3.47,.37,3.53,.35,3.59,.34,3.65,.37,3.72,.35,3.78,.34,3.84,.37,3.90,.35,3.97,.34,4.03,.37,4.08,.35,2.92,.41,2.99,.39,3.05,.42,3.11,.40,3.18,.39,3.24,.42,3.30,.40,3.36,.39,3.43,.42,3.49,.40,3.55,.39,3.61,.42,3.68,.40,3.74,.39,3.80,.42,3.86,.40,3.93,.39,3.99,.42,4.05,.41,2.96,.47,3.02,.45,3.08,.48,3.14,.46,3.21,.45,3.27,.48,3.33,.46,3.39,.45,3.46,.48,3.52,.46,3.58,.45,3.64,.48,3.71,.46,3.77,.45,3.83,.48,3.89,.46,3.96,.45,4.02,.47,3.04,.53,3.10,.51,3.17,.54,3.23,.52,3.29,.51,3.35,.54,3.42,.52,3.48,.51,3.54,.54,3.60,.52,3.67,.51,3.73,.54,3.79,.52,3.86,.51,3.92,.54,3.98,.52,3.15,.59,3.22,.57,3.30,.59,3.37,.58,3.44,.60,3.50,.57,3.58,.59,3.68,.60,3.80,.58,3.88,.57,3.12,.30,3.20,.36,3.28,.31,3.36,.44,3.42,.36,3.50,.30,3.56,.42,3.62,.25,3.70,.33,3.26,.44,3.34,.30,3.46,.43,3.55,.33,3.18,.45,3.24,.26,3.40,.28,3.31,.38,3.64,.41,3.76,.37,
3.06,.21,3.14,.21,3.21,.19,3.30,.21,3.42,.21,3.50,.23,3.60,.20,3.69,.22,3.80,.21,3.88,.22,3.00,.27,3.07,.33,3.13,.27,3.19,.33,3.25,.27,3.33,.33,3.39,.26,3.45,.33,3.52,.27,3.58,.32,3.64,.33,3.70,.27,3.77,.33,3.83,.27,3.89,.32,3.95,.27,3.01,.36,3.08,.40,3.14,.41,3.21,.38,3.27,.42,3.35,.43,3.41,.40,3.47,.42,3.53,.38,3.60,.37,3.66,.44,3.73,.38,3.80,.38,3.85,.44,3.91,.38,3.98,.39,3.04,.49,3.12,.48,3.19,.49,3.25,.50,3.31,.44,3.38,.49,3.44,.45,3.50,.50,3.56,.47,3.63,.49,3.69,.44,3.75,.49,3.81,.45,3.88,.49,3.94,.49,4.00,.50,
3.05,.27,3.11,.23,3.17,.27,3.23,.29,3.29,.23,3.36,.28,3.44,.24,3.49,.28,3.55,.25,3.61,.28,3.67,.23,3.74,.28,3.80,.25,3.86,.28,3.92,.26,3.99,.28,3.04,.38,3.10,.34,3.16,.38,3.23,.36,3.30,.35,3.38,.36,3.44,.33,3.51,.35,3.58,.36,3.63,.35,3.69,.37,3.75,.35,3.81,.34,3.88,.37,3.94,.33,4.01,.36,3.07,.44,3.13,.43,3.20,.42,3.29,.45,3.33,.42,3.41,.44,3.48,.45,3.54,.43,3.59,.43,3.66,.47,3.72,.42,3.78,.43,3.84,.41,3.90,.42,3.96,.42,4.02,.44,3.13,.52,3.20,.51,3.26,.54,3.32,.50,3.39,.52,3.45,.53,3.51,.54,3.57,.51,3.64,.53,3.70,.52,3.76,.51,3.82,.53,3.89,.52,3.95,.51];
const splitPairs=a=>{const o=[];for(let i=0;i<a.length;i+=2)o.push([a[i],a[i+1]]);return o;};
const allGroups=[midScatter,upperScatter,topRightFringe,topRightCore,topRightExtra,topRightFill,leftFringe,leftCore,leftExtra,leftFill,lowerLeftCore,lowerLeftFringe,bottomScatter,rightTail,bottomRightCore];
const points=allGroups.flatMap(splitPairs);
const labelStyle={fontFamily:'DejaVu Serif',fontSize:10.5,color:'#777'};
const titleStyle={fontFamily:'Liberation Sans',fontWeight:'bold',fontSize:29.5,color:'#000'};
const chart=echarts.init(document.getElementById('c'),null,{renderer:'canvas'});
chart.setOption({
  animation:false,backgroundColor:'#fff',
  grid:{left:104,right:13,top:14,bottom:114,containLabel:false,outerBoundsMode:'none'},
  xAxis:{type:'value',min:-0.12,max:5.57,offset:11,splitLine:{show:false},
    axisLine:{onZero:false,lineStyle:{color:'#333',width:1.3}},
    axisTick:{customValues:xTickValues,length:11,lineStyle:{color:'#888',width:1}},
    axisLabel:{customValues:xTickValues,margin:34,formatter:v=>xTickLabels[xTickValues.indexOf(v)],...labelStyle},
    name:'CD3_TotalSeqB',nameLocation:'middle',nameGap:75,
    nameTextStyle:{...titleStyle,padding:[0,0,0,14]}},
  yAxis:{type:'value',min:-0.11,max:4.9,offset:11.5,splitLine:{show:false},
    axisLine:{onZero:false,lineStyle:{color:'#333',width:1.3}},
    axisTick:{customValues:yTickValues,length:11,lineStyle:{color:'#666',width:1}},
    axisLabel:{customValues:yTickValues,margin:35,align:'center',formatter:v=>yTickLabels[yTickValues.indexOf(v)],...labelStyle},
    name:'CD4_TotalSeqB',nameLocation:'middle',nameGap:52,nameMoveOverlap:false,
    nameTextStyle:{...titleStyle,padding:[0,6,0,0]}},
  series:[{type:'scatter',data:points,symbol:'circle',symbolSize:6,silent:true,progressive:0,
    itemStyle:{color:'rgba(255,255,255,0)',borderColor:'#3c68c6',borderWidth:1.9,opacity:.85}}]
});
</script></body></html>
